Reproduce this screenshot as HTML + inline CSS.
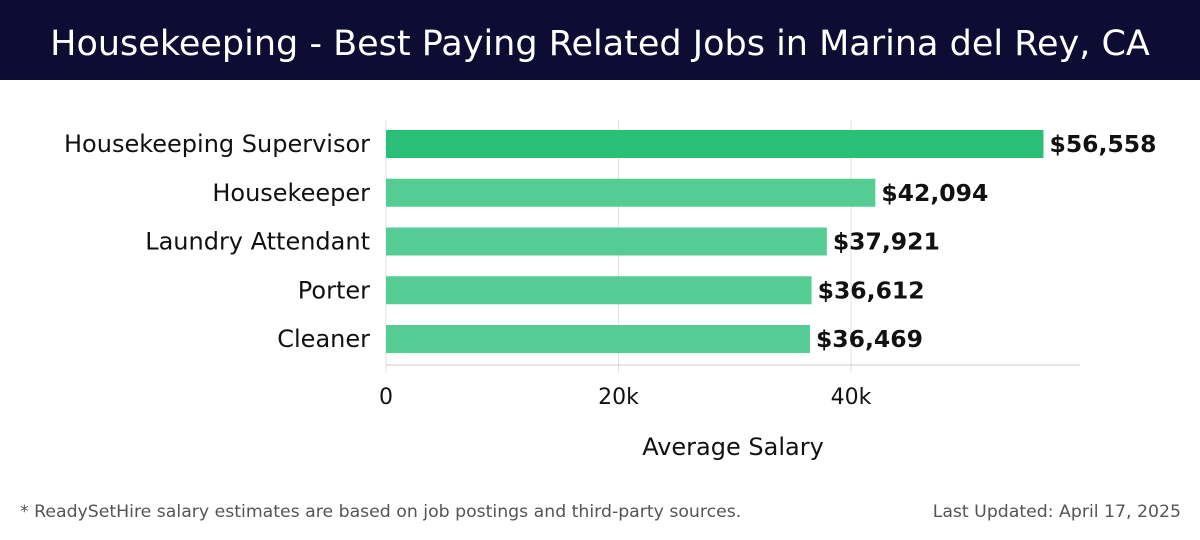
<!DOCTYPE html>
<html><head><meta charset="utf-8"><style>
body{margin:0;width:1200px;height:540px;background:#fff;font-family:"DejaVu Sans","Liberation Sans",sans-serif;overflow:hidden}
#title{position:absolute;left:0;top:0;width:1200px;height:80px;background:#0d0d33;color:#fff;font-size:35px;text-align:center;line-height:88px;white-space:nowrap}
.foot{position:absolute;top:502px;font-size:17.3px;color:#555;white-space:nowrap}
</style></head><body>
<div id="title">Housekeeping - Best Paying Related Jobs in Marina del Rey, CA</div>
<svg id="chart" width="1200" height="480" style="position:absolute;left:0;top:0;font-family:'DejaVu Sans',sans-serif"></svg>
<div class="foot" style="left:20px">* ReadySetHire salary estimates are based on job postings and third-party sources.</div>
<div class="foot" style="right:19px">Last Updated: April 17, 2025</div>
<script>
const categories=["Housekeeping Supervisor","Housekeeper","Laundry Attendant","Porter","Cleaner"];
const values=[56558,42094,37921,36612,36469];
const labels=["$56,558","$42,094","$37,921","$36,612","$36,469"];
const ticks=[0,20000,40000];
const tickLabels=["0","20k","40k"];
const ns="http://www.w3.org/2000/svg";
const svg=document.getElementById('chart');
const x0=386,x1=1080,xmax=59700;
const xs=v=>x0+(x1-x0)*v/xmax;
const ys=i=>130+i*48.75;
function mk(t,a,txt){const e=document.createElementNS(ns,t);for(const k in a)e.setAttribute(k,a[k]);if(txt!==undefined)e.textContent=txt;svg.appendChild(e);return e;}
ticks.forEach((t,i)=>{
 const g=mk('line',{x1:xs(t),x2:xs(t),y1:120,y2:373,stroke:'#e2e2e2','stroke-width':1});
 
 
 const l=mk('text',{x:xs(t),y:404,'text-anchor':'middle','font-size':22,fill:'#111'},tickLabels[i]);
 
 
});
const ax=mk('line',{x1:x0,x2:x1,y1:365,y2:365,stroke:'#ccc','stroke-width':1});


categories.forEach((c,i)=>{
 const y=ys(i);
 const r=mk('rect',{x:x0,y:y,width:xs(values[i])-x0,height:28,fill:i===0?'#2abf77':'#55cc94'});
 
 
 const t=mk('text',{x:370,y:y+22,'text-anchor':'end','font-size':24,fill:'#111'},c);
 
 
 const v=mk('text',{x:xs(values[i])+6,y:y+22,'font-size':23.5,'font-weight':'bold',fill:'#111'},labels[i]);
 
 
});
const at=mk('text',{x:733,y:455,'text-anchor':'middle','font-size':24,fill:'#111'},'Average Salary');


</script>
</body></html>
